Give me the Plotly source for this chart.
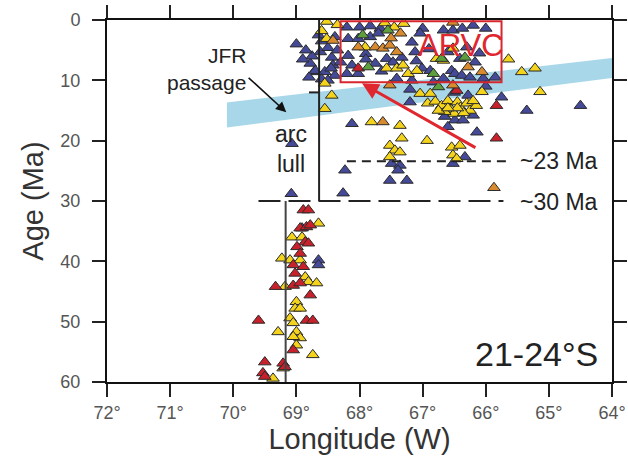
import plotly.graph_objects as go

# ---------------- data (longitude W, age Ma) ----------------
blue_lon = [69.0, 68.78, 68.72, 69.07, 69.08, 68.2, 68.0, 67.83, 67.67, 68.62, 68.39, 68.18, 68.02, 67.83,
            68.18, 68.44, 68.7, 68.55, 68.42, 68.39, 68.12, 68.02, 68.2, 67.57, 67.47, 67.33, 67.41,
            67.0, 67.04, 66.67, 66.52, 66.37, 66.2, 66.0, 67.17, 67.12, 66.6, 66.41, 66.17,
            67.01, 66.88, 66.54, 66.49, 66.38, 66.25, 66.04, 65.85, 66.67, 67.17, 66.83, 66.28, 65.75, 67.2,
            66.49, 66.36, 66.6, 66.14, 66.33, 66.52, 68.12, 67.49, 67.36, 67.39, 68.23, 67.52, 67.25, 68.26,
            65.35, 64.5, 68.91, 68.65, 68.65,
            68.6, 68.5, 68.75, 68.3, 68.6, 67.7, 67.9, 67.65, 67.2, 66.5, 66.65, 66.2, 68.85, 66.0,
            68.9, 68.8, 68.5, 68.65, 68.45, 68.35, 67.9, 67.75, 67.1, 66.9, 66.3, 66.1]
blue_age = [4.0, 7.2, 8.6, 20.5, 28.8, 1.2, 1.2, 1.0, 1.4, 5.3, 2.8, 3.1, 3.1, 2.8,
            5.9, 6.2, 8.4, 8.6, 7.5, 9.2, 7.5, 8.9, 8.9, 6.4, 7.0, 6.2, 9.7,
            1.4, 2.2, 1.7, 1.7, 1.4, 0.9, 1.4, 3.7, 5.3, 5.3, 6.4, 7.0,
            8.0, 8.4, 8.4, 8.9, 9.2, 9.5, 9.7, 9.5, 9.7, 10.0, 10.3, 12.5, 12.8, 13.6,
            16.6, 16.6, 17.7, 18.6, 22.7, 23.8, 17.2, 23.8, 24.1, 24.9, 24.9, 26.6, 26.6, 28.7,
            15.0, 14.2, 34.5, 39.8, 40.6,
            3.5, 4.6, 6.0, 7.0, 9.8, 2.2, 5.6, 8.5, 11.5, 12.0, 16.0, 15.8, 5.0, 11.0,
            6.5, 9.5, 10.0, 2.5, 8.0, 5.0, 6.5, 7.2, 6.8, 4.8, 4.5, 5.5]

yellow_lon = [68.52, 68.52, 68.55, 68.44, 68.55, 67.91, 67.57, 67.41, 67.31,
              66.52, 66.78, 66.67, 65.64, 67.23, 67.09, 67.04, 66.88, 66.06, 66.92, 66.62,
              66.8, 66.7, 66.6, 66.55, 66.45, 66.4, 66.3, 66.25, 66.15, 66.5, 66.65, 66.35, 66.75, 66.2, 66.45, 66.6,
              66.93, 66.54, 66.41, 66.52, 66.46, 67.81, 67.36, 67.33, 67.52, 67.44, 67.36, 67.52,
              65.43, 65.22, 65.14,
              68.65, 69.07, 68.91, 69.23, 69.1, 68.94, 68.86, 68.81, 68.68, 69.18,
              69.0, 69.02, 68.94, 69.1, 69.05, 69.29, 69.0, 68.94, 69.05, 69.0, 68.74, 69.21, 69.37,
              68.35, 68.6, 67.6, 67.3, 67.45]
yellow_age = [0.25, 3.1, 10.5, 12.5, 14.7, 4.5, 8.0, 8.0, 7.5,
              4.7, 6.4, 6.7, 6.5, 8.9, 8.4, 12.2, 12.2, 11.9, 13.8, 13.8,
              13.5, 14.2, 13.4, 14.8, 13.6, 14.5, 13.8, 15.0, 14.2, 15.5, 15.2, 15.4, 15.0, 13.4, 14.6, 14.6,
              20.0, 21.1, 20.8, 22.4, 23.0, 16.9, 17.5, 19.6, 20.8, 21.6, 21.9, 22.7,
              8.6, 8.0, 11.9,
              33.7, 36.0, 36.0, 39.5, 39.8, 39.8, 42.6, 43.4, 43.6, 44.2,
              46.7, 47.8, 47.8, 49.4, 50.2, 51.7, 51.7, 52.7, 52.5, 53.9, 55.5, 57.7, 59.4,
              0.8, 1.8, 0.5, 0.6, 1.2]

red_lon = [68.02, 66.46, 65.83, 65.83,
           68.89, 68.81, 68.94, 68.84, 68.78, 68.86, 68.81, 68.99, 68.94, 69.05, 68.89, 69.02,
           69.33, 69.05, 68.94, 68.78, 69.6, 68.84, 68.74, 69.05, 69.5, 69.21, 69.18, 69.53, 69.5]
red_age = [8.0, 11.7, 14.2, 19.6,
           31.5, 31.5, 34.5, 34.3, 34.0, 36.8, 37.0, 37.6, 38.7, 40.6, 40.9, 42.0,
           44.2, 44.0, 43.6, 45.6, 49.8, 49.8, 49.8, 54.7, 56.7, 56.9, 57.5, 58.5, 59.1]

green_lon = [67.86, 67.55, 66.7, 66.33, 66.83, 66.75, 67.95]
green_age = [7.8, 1.7, 6.4, 6.2, 8.9, 11.1, 2.5]

orange_lon = [68.42, 68.02, 67.75, 67.63, 67.52, 67.41, 67.52, 66.52, 66.28, 66.06, 66.52, 67.63, 65.87, 67.5, 67.35]
orange_age = [3.4, 4.5, 4.5, 4.7, 4.2, 5.3, 10.8, 0.4, 7.8, 8.6, 10.8, 16.9, 27.8, 3.0, 2.2]

x_ticks = [72, 71, 70, 69, 68, 67, 66, 65, 64]
y_ticks = [0, 10, 20, 30, 40, 50, 60]

# ---------------- figure ----------------
FONT = "Liberation Sans, Arial, Helvetica, sans-serif"
fig = go.Figure()

groups = [
    (blue_lon, blue_age, "#454a98"),
    (yellow_lon, yellow_age, "#f3d31c"),
    (red_lon, red_age, "#c9212b"),
    (green_lon, green_age, "#5d9e3d"),
    (orange_lon, orange_age, "#d98a2e"),
]
for lon, age, col in groups:
    fig.add_trace(go.Scatter(
        x=lon, y=age, mode="markers",
        marker=dict(symbol="triangle-up", size=11, color=col,
                    line=dict(color="#2a2a2a", width=1)),
        showlegend=False, hoverinfo="skip"))

shapes = []
# JFR passage band
shapes.append(dict(type="path", xref="x", yref="y", layer="below",
                   path="M 70.1,13.66 L 64,6.3 L 64,9.6 L 70.1,17.8 Z",
                   fillcolor="#a9d7ea", line=dict(width=0)))
# ARVC box
shapes.append(dict(type="rect", xref="x", yref="y", x0=68.3, x1=65.75, y0=0.2, y1=10.3,
                   line=dict(color="#d7262e", width=2)))
# arc-lull bracket
shapes.append(dict(type="line", xref="x", yref="y", x0=68.64, x1=68.64, y0=0, y1=30,
                   line=dict(color="#222", width=2)))
shapes.append(dict(type="line", xref="x", yref="y", x0=68.8, x1=68.64, y0=12, y1=12,
                   line=dict(color="#222", width=2)))
shapes.append(dict(type="line", xref="x", yref="y", x0=69.17, x1=69.17, y0=30, y1=60,
                   line=dict(color="#444", width=2)))
# dashed age lines
shapes.append(dict(type="line", xref="x", yref="y", x0=69.6, x1=65.72, y0=30, y1=30,
                   line=dict(color="#222", width=2, dash="22px,8px")))
shapes.append(dict(type="line", xref="x", yref="y", x0=68.2, x1=65.6, y0=23.4, y1=23.4,
                   line=dict(color="#222", width=2, dash="9px,6px")))

annotations = [
    dict(x=69.16, y=15.3, ax=69.78, ay=9.35, xref="x", yref="y", axref="x", ayref="y",
         text="", showarrow=True, arrowhead=2, arrowsize=1.3, arrowwidth=1.6, arrowcolor="#111"),
    dict(x=67.96, y=10.5, ax=66.14, ay=21.3, xref="x", yref="y", axref="x", ayref="y",
         text="", showarrow=True, arrowhead=2, arrowsize=1.1, arrowwidth=3, arrowcolor="#e0262e"),
    dict(x=69.77, y=8.1, xref="x", yref="y", text="JFR<br>passage", showarrow=False,
         xanchor="right", yanchor="middle", align="right",
         font=dict(family=FONT, size=21, color="#222")),
    dict(x=69.08, y=21.3, xref="x", yref="y", text="arc<br>lull", showarrow=False,
         xanchor="center", yanchor="middle", align="center",
         font=dict(family=FONT, size=23, color="#222")),
    dict(x=66.39, y=4.3, xref="x", yref="y", text="ARVC", showarrow=False,
         xanchor="center", yanchor="middle",
         font=dict(family=FONT, size=31, color="#e0262e")),
    dict(x=65.49, y=23.4, xref="x", yref="y", text="~23 Ma", showarrow=False,
         xanchor="left", yanchor="middle",
         font=dict(family=FONT, size=23, color="#222")),
    dict(x=65.49, y=30.2, xref="x", yref="y", text="~30 Ma", showarrow=False,
         xanchor="left", yanchor="middle",
         font=dict(family=FONT, size=23, color="#222")),
    dict(x=64.19, y=55.4, xref="x", yref="y", text="21-24°S", showarrow=False,
         xanchor="right", yanchor="middle",
         font=dict(family=FONT, size=34, color="#222")),
]

fig.update_layout(
    width=628, height=463,
    margin=dict(l=107, r=16, t=20, b=81, autoexpand=False),
    paper_bgcolor="white", plot_bgcolor="white",
    shapes=shapes, annotations=annotations,
    font=dict(family=FONT),
)
fig.update_xaxes(
    range=[72, 64], tickvals=x_ticks, ticktext=[f"{v}°" for v in x_ticks],
    ticks="outside", ticklen=13, tickwidth=2, tickcolor="#222",
    showline=True, linewidth=2, linecolor="#111", mirror="ticks",
    showgrid=False, zeroline=False, automargin=False,
    tickfont=dict(family=FONT, size=18, color="#555"),
    title=dict(text="Longitude (W)", font=dict(family=FONT, size=29, color="#333"), standoff=6),
)
fig.update_yaxes(
    range=[60, 0], tickvals=y_ticks,
    ticks="outside", ticklen=13, tickwidth=2, tickcolor="#222",
    showline=True, linewidth=2, linecolor="#111", mirror="ticks",
    showgrid=False, zeroline=False, ticklabelstandoff=8, automargin=False,
    tickfont=dict(family=FONT, size=18, color="#555"),
    title=dict(text="Age (Ma)", font=dict(family=FONT, size=29, color="#333"), standoff=8),
)

fig.write_html("out.html")
